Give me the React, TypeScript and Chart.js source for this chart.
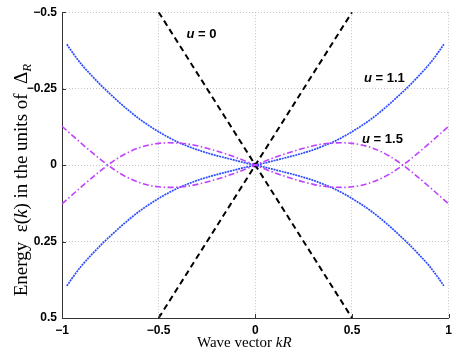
import React, { useEffect, useRef } from "react";
import { Chart, registerables } from "chart.js";

Chart.register(...registerables);

// Wave vector grid for the u = 1.1 branches
const kBlue = [
  -0.975, -0.95, -0.9, -0.85, -0.8, -0.75, -0.7, -0.65, -0.6, -0.55, -0.5, -0.45, -0.4, -0.35, -0.3, -0.25, -0.2, -0.15, -0.1, -0.05,
  0,
  0.05, 0.1, 0.15, 0.2, 0.25, 0.3, 0.35, 0.4, 0.45, 0.5, 0.55, 0.6, 0.65, 0.7, 0.75, 0.8, 0.85, 0.9, 0.95, 0.975,
];
// u = 1.1 branches
const blueA = [
  -0.395, -0.372, -0.33, -0.295, -0.262, -0.232, -0.203, -0.176, -0.151, -0.129, -0.109, -0.091, -0.075, -0.062, -0.05, -0.04, -0.031, -0.023, -0.015, -0.007,
  0,
  0.007, 0.015, 0.023, 0.031, 0.04, 0.05, 0.062, 0.075, 0.091, 0.109, 0.129, 0.151, 0.176, 0.203, 0.232, 0.262, 0.295, 0.33, 0.372, 0.395,
];
const blueB = [
  0.395, 0.372, 0.33, 0.295, 0.262, 0.232, 0.203, 0.176, 0.151, 0.129, 0.109, 0.091, 0.075, 0.062, 0.05, 0.04, 0.031, 0.023, 0.015, 0.007,
  0,
  -0.007, -0.015, -0.023, -0.031, -0.04, -0.05, -0.062, -0.075, -0.091, -0.109, -0.129, -0.151, -0.176, -0.203, -0.232, -0.262, -0.295, -0.33, -0.372, -0.395,
];

// Wave vector grid for the u = 1.5 branches
const kMag = [
  -1, -0.95, -0.9, -0.85, -0.8, -0.75, -0.7, -0.65, -0.6, -0.55, -0.5, -0.45, -0.4, -0.35, -0.3, -0.25, -0.2, -0.15, -0.1, -0.05,
  0,
  0.05, 0.1, 0.15, 0.2, 0.25, 0.3, 0.35, 0.4, 0.45, 0.5, 0.55, 0.6, 0.65, 0.7, 0.75, 0.8, 0.85, 0.9, 0.95, 1,
];
// u = 1.5 branches
const magA = [
  -0.127, -0.099, -0.071, -0.044, -0.018, 0.006, 0.027, 0.044, 0.057, 0.066, 0.071, 0.073, 0.072, 0.069, 0.063, 0.055, 0.046, 0.036, 0.025, 0.013,
  0,
  -0.013, -0.025, -0.036, -0.046, -0.055, -0.063, -0.069, -0.072, -0.073, -0.071, -0.066, -0.057, -0.044, -0.027, -0.006, 0.018, 0.044, 0.071, 0.099, 0.127,
];
const magB = [
  0.127, 0.099, 0.071, 0.044, 0.018, -0.006, -0.027, -0.044, -0.057, -0.066, -0.071, -0.073, -0.072, -0.069, -0.063, -0.055, -0.046, -0.036, -0.025, -0.013,
  0,
  0.013, 0.025, 0.036, 0.046, 0.055, 0.063, 0.069, 0.072, 0.073, 0.071, 0.066, 0.057, 0.044, 0.027, 0.006, -0.018, -0.044, -0.071, -0.099, -0.127,
];

// u = 0 branches
const kDirac = [-0.5, 0.5];
const diracA = [-0.5, 0.5];
const diracB = [0.5, -0.5];

// crossing point
const kCross = [0];
const eCross = [0];

const xTicks = [-1, -0.5, 0, 0.5, 1];
const yTicks = [-0.5, -0.25, 0, 0.25, 0.5];

const curveLabels = ["0", "1.1", "1.5"];
const labelK = [-0.356, 0.562, 0.552];
const labelE = [-0.415, -0.272, -0.073];

const fmt = (v: number) => (v < 0 ? "\u2212" + String(-v) : String(v));
const pts = (xs: number[], ys: number[]) => xs.map((x, i) => ({ x, y: ys[i] }));

const BLUE = "#2b4cff";
const MAG = "#bf40ff";

const decorPlugin = {
  id: "decor",
  afterDraw(chart: any) {
    const { ctx, chartArea, scales } = chart;
    const xs = scales.x;
    const ys = scales.y;
    ctx.save();
    // inward tick marks
    ctx.strokeStyle = "#333";
    ctx.lineWidth = 1;
    ctx.beginPath();
    yTicks.forEach((v) => {
      const y = Math.round(ys.getPixelForValue(v)) + 0.5;
      ctx.moveTo(chartArea.left, y);
      ctx.lineTo(chartArea.left + 4, y);
    });
    xTicks.forEach((v) => {
      const x = Math.round(xs.getPixelForValue(v)) + 0.5;
      ctx.moveTo(x, chartArea.bottom);
      ctx.lineTo(x, chartArea.bottom - 4);
    });
    ctx.stroke();

    // curve labels
    ctx.fillStyle = "#000";
    ctx.textBaseline = "alphabetic";
    ctx.textAlign = "left";
    curveLabels.forEach((t, i) => {
      let x = xs.getPixelForValue(labelK[i]);
      const y = ys.getPixelForValue(labelE[i]);
      ctx.font = "italic bold 13px 'Liberation Sans'";
      ctx.fillText("u", x, y);
      x += ctx.measureText("u").width;
      ctx.font = "bold 13px 'Liberation Sans'";
      ctx.fillText(" = " + t, x, y);
    });

    // x axis title
    const serif = "'Liberation Serif'";
    const xParts = [
      { t: "Wave vector ", f: `15px ${serif}` },
      { t: "kR", f: `italic 15px ${serif}` },
    ];
    let xx = 197;
    xParts.forEach((p) => {
      ctx.font = p.f;
      ctx.fillText(p.t, xx, 347);
      xx += ctx.measureText(p.t).width;
    });

    // y axis title (rotated)
    const sz = 19;
    const yParts = [
      { t: "Energy  \u03b5(", f: `${sz}px ${serif}`, dy: 0 },
      { t: "k", f: `italic ${sz}px ${serif}`, dy: 0 },
      { t: ") in the units of  \u0394", f: `${sz}px ${serif}`, dy: 0 },
      { t: "R", f: `italic ${Math.round(sz * 0.7)}px ${serif}`, dy: 4 },
    ];
    let total = 0;
    yParts.forEach((p) => {
      ctx.font = p.f;
      total += ctx.measureText(p.t).width;
    });
    ctx.translate(27, 180);
    ctx.rotate(-Math.PI / 2);
    let px = -total / 2;
    yParts.forEach((p) => {
      ctx.font = p.f;
      ctx.fillText(p.t, px, p.dy);
      px += ctx.measureText(p.t).width;
    });
    ctx.restore();
  },
};

export default function App() {
  const ref = useRef<HTMLCanvasElement | null>(null);
  useEffect(() => {
    if (!ref.current) return;
    const tickFont = { family: "'Liberation Sans'", weight: "bold" as const, size: 12 };
    const chart = new Chart(ref.current, {
      type: "scatter",
      data: {
        datasets: [
          { data: pts(kMag, magA), borderColor: MAG, borderWidth: 1.6, borderDash: [6, 2.5, 1.5, 2.5] },
          { data: pts(kMag, magB), borderColor: MAG, borderWidth: 1.6, borderDash: [6, 2.5, 1.5, 2.5] },
          { data: pts(kBlue, blueA), borderColor: BLUE, borderWidth: 1.7, borderDash: [2, 0.8] },
          { data: pts(kBlue, blueB), borderColor: BLUE, borderWidth: 1.7, borderDash: [2, 0.8] },
          { data: pts(kDirac, diracA), borderColor: "#000", borderWidth: 2, borderDash: [6, 4] },
          { data: pts(kDirac, diracB), borderColor: "#000", borderWidth: 2, borderDash: [6, 4] },
          {
            data: pts(kCross, eCross),
            showLine: false,
            pointRadius: 2.5,
            pointStyle: "rect",
            backgroundColor: "#000",
            borderColor: "#000",
          },
        ].map((d: any) => ({
          showLine: true,
          pointRadius: 0,
          fill: false,
          cubicInterpolationMode: "monotone",
          ...d,
        })),
      },
      options: {
        animation: false,
        responsive: true,
        maintainAspectRatio: false,
        layout: { padding: { top: 11, right: 7, left: 0, bottom: 0 } },
        plugins: { legend: { display: false }, tooltip: { enabled: false }, title: { display: false } },
        scales: {
          x: {
            type: "linear",
            min: -1,
            max: 1,
            afterBuildTicks: (s: any) => {
              s.ticks = xTicks.map((v) => ({ value: v }));
            },
            afterFit: (s: any) => {
              s.height = 37;
            },
            ticks: { callback: (v: any) => fmt(Number(v)), font: tickFont, color: "#000", padding: 5, maxRotation: 0, autoSkip: false },
            grid: { color: "#c4c4c4", lineWidth: 1, drawTicks: false },
            border: { display: true, color: "#333", width: 1, dash: [1, 2] },
          },
          y: {
            type: "linear",
            min: -0.5,
            max: 0.5,
            reverse: true,
            afterBuildTicks: (s: any) => {
              s.ticks = yTicks.map((v) => ({ value: v }));
            },
            afterFit: (s: any) => {
              s.width = 62;
            },
            ticks: { callback: (v: any) => fmt(Number(v)), font: tickFont, color: "#000", padding: 5, autoSkip: false },
            grid: { color: "#c4c4c4", lineWidth: 1, drawTicks: false },
            border: { display: true, color: "#333", width: 1, dash: [1, 2] },
          },
        },
      },
      plugins: [decorPlugin],
    });
    return () => chart.destroy();
  }, []);
  return (
    <div style={{ position: "absolute", left: 0, top: 0, width: 457, height: 355, background: "#fff" }}>
      <canvas ref={ref} />
    </div>
  );
}
